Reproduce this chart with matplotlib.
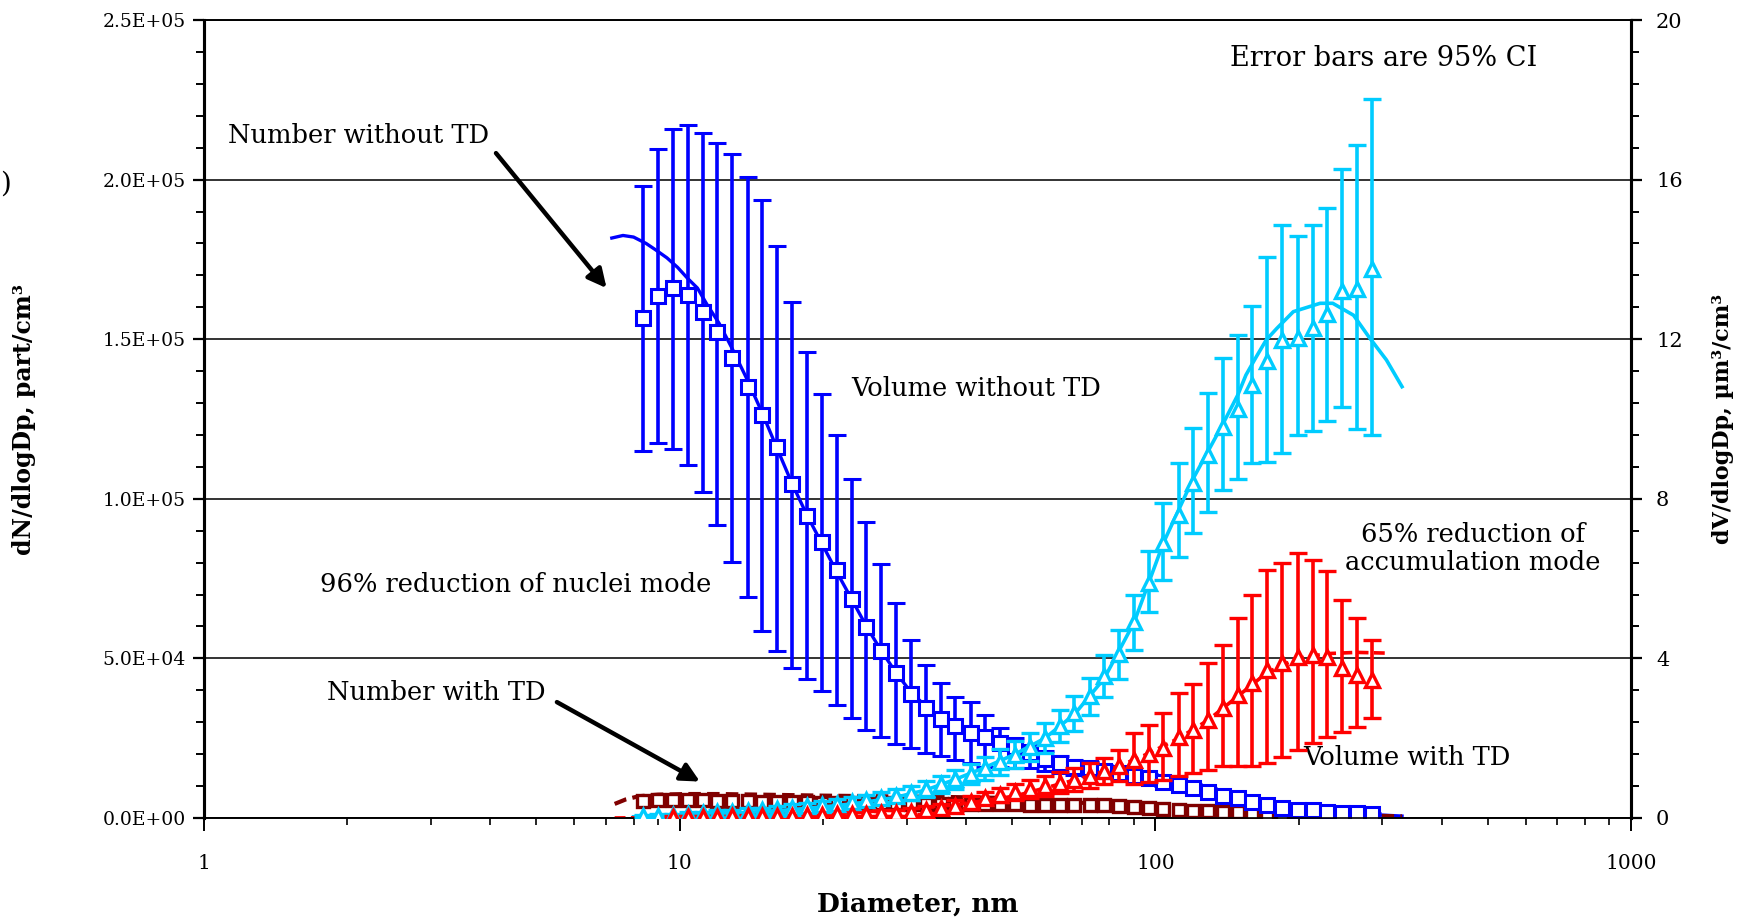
import numpy as np
import matplotlib.pyplot as plt
from matplotlib.ticker import MultipleLocator, FixedLocator, FuncFormatter, NullFormatter

plt.rcParams['font.family'] = ['DejaVu Serif']

# SMPS channel mid-points, nm
dp = [8.39, 9.02, 9.69, 10.4, 11.2, 12.0, 12.9, 13.9, 14.9, 16.0,
      17.2, 18.5, 19.9, 21.4, 23.0, 24.7, 26.5, 28.5, 30.6, 32.9,
      35.4, 38.0, 40.9, 43.9, 47.2, 50.7, 54.5, 58.6, 62.9, 67.6,
      72.7, 78.1, 83.9, 90.2, 96.9, 104, 112, 120, 129, 139,
      149, 160, 172, 185, 199, 214, 230, 247, 265, 285]

# number distribution without thermodenuder, part/cm3 (mean and 95% CI bounds)
num_wo = [156500, 163500, 166000, 164000, 158600, 152400, 144200, 134900, 126300, 116100,
          104500, 94700, 86600, 77700, 68500, 59700, 52400, 45500, 38800, 34400,
          30900, 28800, 26500, 25300, 23400, 22300, 20300, 18400, 17100, 16100,
          15600, 14800, 14000, 13200, 12400, 11400, 10300, 9300, 8200, 6900,
          6200, 5100, 4100, 3000, 2500, 2500, 2000, 1700, 1500, 1300]
num_wo_hi = [198000, 209500, 216000, 217000, 214700, 211600, 208000, 200700, 193600, 179200,
             161700, 145900, 132800, 120000, 106200, 92600, 79500, 67200, 55800, 47800,
             42200, 38000, 36400, 32300, 28100, 25000, 23000, 21000, 19500, 18300,
             17500, 16600, 15700, 14800, 13900, 12800, 11600, 10500, 9300, 7900,
             7100, 5900, 4800, 3600, 3000, 3000, 2400, 2100, 1800, 1600]
num_wo_lo = [115000, 117400, 115600, 110600, 102200, 91800, 80300, 69100, 58600, 52300,
             46900, 43400, 39900, 35400, 31200, 27600, 25500, 23200, 22000, 20500,
             19500, 18200, 17100, 16100, 16000, 15800, 15500, 14800, 14200, 13600,
             13200, 12700, 12100, 11500, 10900, 10000, 9000, 8100, 7100, 5900,
             5300, 4300, 3400, 2400, 2000, 2000, 1600, 1300, 1200, 1000]

# number distribution with thermodenuder, part/cm3
num_td = [5200, 5500, 5600, 5600, 5500, 5400, 5300, 5200, 5100, 5000,
          4900, 4900, 4800, 4800, 4700, 4700, 4600, 4600, 4500, 4500,
          4400, 4400, 4400, 4300, 4300, 4300, 4200, 4200, 4200, 4100,
          4100, 4100, 3800, 3300, 3000, 2700, 2500, 2300, 2100, 2000,
          1800, 1500, 1300, 1100, 1000, 900, 800, 700, 600, 500]

# volume distribution without thermodenuder, um3/cm3
vol_wo = [0.04, 0.06, 0.08, 0.10, 0.12, 0.14, 0.16, 0.18, 0.20, 0.23,
          0.26, 0.29, 0.32, 0.36, 0.40, 0.45, 0.50, 0.56, 0.62, 0.72,
          0.84, 0.97, 1.10, 1.25, 1.40, 1.58, 1.78, 2.00, 2.30, 2.62,
          3.05, 3.55, 4.10, 4.90, 5.90, 6.90, 7.60, 8.40, 9.10, 9.80,
          10.25, 10.85, 11.45, 11.98, 12.02, 12.27, 12.63, 13.22, 13.25, 13.75]
vol_wo_hi = [0.07, 0.09, 0.11, 0.14, 0.16, 0.19, 0.21, 0.24, 0.26, 0.30,
             0.34, 0.38, 0.42, 0.47, 0.52, 0.58, 0.64, 0.72, 0.80, 0.92,
             1.06, 1.21, 1.36, 1.54, 1.72, 1.92, 2.14, 2.38, 2.70, 3.05,
             3.52, 4.08, 4.72, 5.60, 6.70, 7.90, 8.90, 9.77, 10.64, 11.52,
             12.10, 12.83, 14.05, 14.86, 14.59, 14.86, 15.28, 16.27, 16.88, 18.02]
vol_wo_lo = [0.01, 0.03, 0.05, 0.06, 0.08, 0.09, 0.11, 0.12, 0.14, 0.16,
             0.18, 0.20, 0.22, 0.25, 0.28, 0.32, 0.36, 0.40, 0.44, 0.52,
             0.62, 0.73, 0.84, 0.96, 1.08, 1.24, 1.42, 1.62, 1.90, 2.19,
             2.58, 3.02, 3.48, 4.20, 5.17, 5.96, 6.55, 7.14, 7.68, 8.22,
             8.49, 8.90, 8.91, 9.14, 9.60, 9.71, 9.96, 10.29, 9.75, 9.60]

# volume distribution with thermodenuder, um3/cm3
nan = np.nan
vol_td = [nan, nan, 0.02, 0.02, 0.03, 0.03, 0.04, 0.04, 0.05, 0.05,
          0.06, 0.07, 0.08, 0.09, 0.10, 0.11, 0.12, 0.13, 0.15, 0.19,
          0.24, 0.31, 0.40, 0.49, 0.58, 0.65, 0.73, 0.80, 0.88, 0.96,
          1.05, 1.18, 1.30, 1.45, 1.60, 1.75, 2.02, 2.20, 2.46, 2.75,
          3.08, 3.39, 3.71, 3.88, 4.04, 4.09, 4.04, 3.75, 3.58, 3.46]
vol_td_hi = [nan, nan, 0.04, 0.04, 0.05, 0.05, 0.06, 0.07, 0.08, 0.08,
             0.10, 0.11, 0.12, 0.14, 0.15, 0.17, 0.19, 0.21, 0.24, 0.29,
             0.36, 0.44, 0.54, 0.64, 0.76, 0.85, 0.95, 1.04, 1.14, 1.24,
             1.37, 1.50, 1.70, 2.12, 2.33, 2.62, 3.13, 3.36, 3.89, 4.34,
             5.00, 5.60, 6.22, 6.38, 6.63, 6.47, 6.20, 5.46, 5.00, 4.46]
vol_td_lo = [nan, nan, 0.00, 0.00, 0.01, 0.01, 0.02, 0.01, 0.02, 0.02,
             0.02, 0.03, 0.04, 0.04, 0.05, 0.05, 0.05, 0.05, 0.06, 0.09,
             0.12, 0.18, 0.26, 0.34, 0.40, 0.45, 0.51, 0.56, 0.62, 0.68,
             0.75, 0.86, 0.92, 0.85, 0.90, 0.95, 1.04, 1.13, 1.20, 1.29,
             1.29, 1.29, 1.37, 1.54, 1.70, 1.88, 2.04, 2.16, 2.29, 2.50]

# lognormal fits
fit_num_wo_d = [7.2, 7.6, 8.0, 8.5, 8.9, 9.4, 9.9, 10.4, 10.9, 11.4, 12.1, 12.9, 13.9,
                14.9, 16.0, 17.2, 18.5, 19.9, 21.4, 23.0, 24.7, 26.5, 28.5, 30.6, 32.9,
                35.4, 38.0, 40.9, 47.2, 54.5, 62.9, 72.7, 83.9, 96.9, 112, 129, 149,
                172, 199, 230, 265, 300, 330]
fit_num_wo = [181700, 182500, 182000, 180000, 178000, 175500, 172500, 169000, 166000,
              161000, 155000, 147000, 137000, 127000, 116000, 105000, 95000, 86000,
              77000, 68500, 60000, 52500, 45500, 39500, 35000, 31500, 29000, 27000,
              23500, 20500, 17300, 15500, 14000, 12400, 10300, 8200, 6200, 4100,
              2600, 2000, 1500, 900, 600]
fit_num_td_d = [7.3, 7.7, 8.2, 9.0, 10.4, 12.0, 14.9, 19.9, 26.5, 35.4, 47.2, 58.6,
                72.7, 90.2, 112, 139, 172, 214, 265, 330]
fit_num_td = [4400, 5800, 6800, 7300, 7500, 7500, 7300, 7000, 6800, 6600, 6300, 5500,
              4600, 3700, 3000, 2400, 1800, 1200, 800, 500]
fit_vol_wo_d = [8.0, 9.0, 10.4, 12.0, 13.9, 16.0, 18.5, 21.4, 24.7, 28.5, 32.9, 38.0,
                43.9, 50.7, 58.6, 67.6, 78.1, 90.2, 104, 120, 139, 149, 155, 163, 171,
                180, 195, 222, 236, 261, 281, 306, 330]
fit_vol_wo = [0.03, 0.05, 0.07, 0.10, 0.14, 0.18, 0.24, 0.31, 0.40, 0.52, 0.70, 0.97,
              1.27, 1.60, 2.00, 2.60, 3.50, 4.90, 6.90, 8.50, 9.90, 10.60, 11.10, 11.56,
              11.98, 12.27, 12.69, 12.90, 12.90, 12.60, 12.06, 11.48, 10.81]
fit_vol_td_d = [7.3, 9.0, 12.0, 16.0, 21.4, 28.5, 38.0, 50.7, 62.9, 72.7, 83.9, 96.9,
                112, 129, 149, 172, 199, 230, 265, 311]
fit_vol_td = [0.00, 0.01, 0.03, 0.06, 0.11, 0.19, 0.33, 0.55, 0.85, 1.05, 1.30, 1.62,
              2.00, 2.45, 3.05, 3.65, 4.00, 4.12, 4.15, 4.13]

BLUE = '#0000ff'
CYAN = '#00ccff'
RED = '#ff0000'
DARK = '#800000'


def ci(vals, lo, hi):
    v = np.array(vals, float)
    return [v - np.array(lo, float), np.array(hi, float) - v]


fig = plt.figure(figsize=(17.48, 9.23), dpi=100)
ax = fig.add_axes([0.1167, 0.1138, 0.8164, 0.8645])
ax2 = ax.twinx()

ax.set_xscale('log')
ax.set_xlim(1, 1000)
ax.set_ylim(0, 250000)
ax2.set_ylim(0, 20)

ax.yaxis.set_major_locator(MultipleLocator(50000))
ax.yaxis.set_minor_locator(MultipleLocator(10000))
ax.yaxis.set_major_formatter(FuncFormatter(lambda v, p: f'{v:.1E}'))
ax2.yaxis.set_major_locator(MultipleLocator(4))
ax2.yaxis.set_minor_locator(MultipleLocator(0.8))
ax.xaxis.set_major_locator(FixedLocator([1, 10, 100, 1000]))
ax.xaxis.set_major_formatter(FuncFormatter(lambda v, p: f'{v:g}'))
ax.xaxis.set_minor_locator(FixedLocator([m * 10 ** k for k in range(3) for m in range(2, 10)]))
ax.xaxis.set_minor_formatter(NullFormatter())

ax.grid(axis='y', which='major', color='#111111', lw=1.2)
ax.set_axisbelow(True)

# number distributions (left axis); fitted curves sit behind the markers
ax.plot(fit_num_wo_d, fit_num_wo, '-', color=BLUE, lw=2.4, zorder=2)
ax.plot(fit_num_td_d, fit_num_td, '--', color=DARK, lw=3, dashes=(3, 1.5), zorder=2)
ax.errorbar(dp, num_wo, yerr=ci(num_wo, num_wo_lo, num_wo_hi), fmt='s', color=BLUE,
            mfc='white', mec=BLUE, ms=9.5, mew=2.2, ecolor=BLUE, elinewidth=2.6,
            capsize=6.5, capthick=2.4, zorder=3)
ax.plot(dp, num_td, 's', color=DARK, mfc='white', mec=DARK, ms=8.5, mew=2.4, zorder=3)

# volume distributions (right axis)
ax2.plot(fit_vol_wo_d, fit_vol_wo, '-', color=CYAN, lw=2.6, zorder=2)
ax2.plot(fit_vol_td_d, fit_vol_td, '--', color=RED, lw=2.6, dashes=(3, 1.5), zorder=2)
ax2.errorbar(dp, vol_wo, yerr=ci(vol_wo, vol_wo_lo, vol_wo_hi), fmt='^', color=CYAN,
             mfc='white', mec=CYAN, ms=10, mew=2.4, ecolor=CYAN, elinewidth=2.6,
             capsize=6.5, capthick=2.4, zorder=3)
ax2.errorbar(dp, vol_td, yerr=ci(vol_td, vol_td_lo, vol_td_hi), fmt='^', color=RED,
             mfc='white', mec=RED, ms=10, mew=2.4, ecolor=RED, elinewidth=2.6,
             capsize=6.5, capthick=2.4, zorder=3)

# axis styling
for a in (ax, ax2):
    a.spines['left'].set_linewidth(2.2)
    a.spines['right'].set_linewidth(2.2)
    a.spines['top'].set_linewidth(1.2)
    a.spines['bottom'].set_linewidth(1.2)
ax.tick_params(axis='y', which='major', direction='out', length=8, width=1.6, pad=5, labelsize=13.5)
ax.tick_params(axis='y', which='minor', direction='out', length=6, width=1.4)
ax2.tick_params(axis='y', which='major', direction='out', length=8, width=1.6, pad=10, labelsize=15)
ax2.tick_params(axis='y', which='minor', direction='out', length=6, width=1.4)
ax.tick_params(axis='x', which='major', direction='out', length=9, width=1.4, pad=17, labelsize=14.5)
ax.tick_params(axis='x', which='minor', direction='out', length=5, width=1.2)

ax.set_xlabel('Diameter, nm', fontsize=19, fontweight='bold', labelpad=13)
ax.set_ylabel('dN/dlogDp, part/cm³', fontsize=17, fontweight='bold')
ax.yaxis.set_label_coords(-0.118, 0.5)
ax2.set_ylabel('dV/dlogDp, µm³/cm³', fontsize=16, fontweight='bold')
ax2.yaxis.set_label_coords(1.057, 0.5)

# annotations
fs = 18.5
ax.text(1.123, 213700, 'Number without TD', fontsize=fs, va='center', ha='left')
ax.text(1.813, 39200, 'Number with TD', fontsize=fs, va='center', ha='left')
ax.text(1.753, 73000, '96% reduction of nuclei mode', fontsize=fs, va='center', ha='left')
ax.text(22.9, 134700, 'Volume without TD', fontsize=fs, va='center', ha='left')
ax.text(143.5, 237800, 'Error bars are 95% CI', fontsize=19.5, va='center', ha='left')
ax.text(465, 84500, '65% reduction of\naccumulation mode', fontsize=fs, va='center',
        ha='center', linespacing=1.15)
ax.text(205, 18800, 'Volume with TD', fontsize=fs, va='center', ha='left', zorder=5)

arrow = dict(arrowstyle='-|>', lw=3.2, color='black', mutation_scale=28, shrinkA=0, shrinkB=0)
ax.annotate('', xy=(7.02, 166000), xytext=(4.11, 208300), arrowprops=arrow)
ax.annotate('', xy=(11.03, 11400), xytext=(5.52, 36300), arrowprops=arrow)

fig.text(0, 0.80, ')', fontsize=20, ha='left', va='center')

fig.savefig('out.png', dpi=100)
